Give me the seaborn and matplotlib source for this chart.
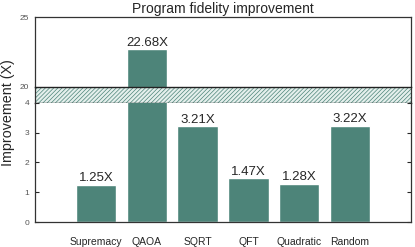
import numpy as np
import pandas as pd
import matplotlib
matplotlib.use("Agg")
import matplotlib.pyplot as plt
import seaborn as sns

sns.set_style("white")
plt.rcParams['font.family'] = ['Liberation Sans', 'DejaVu Sans']
plt.rcParams['hatch.linewidth'] = 0.5

# data
categories = ['Supremacy', 'QAOA', 'SQRT', 'QFT', 'Quadratic', 'Random']
improvement = [1.25, 22.68, 3.21, 1.47, 1.28, 3.22]
labels = ['1.25X', '22.68X', '3.21X', '1.47X', '1.28X', '3.22X']
top_ticks = [20, 25]
bottom_ticks = [0, 1, 2, 3, 4]

df = pd.DataFrame({'Benchmark': categories, 'Improvement': improvement})
bar_color = '#4d8479'

fig = plt.figure(figsize=(4.15, 2.47), dpi=100)
left, width = 0.085, 0.905
ax_top = fig.add_axes([left, 0.648, width, 0.283])
ax_band = fig.add_axes([left, 0.584, width, 0.064])
ax_bot = fig.add_axes([left, 0.101, width, 0.483])

for ax in (ax_top, ax_bot):
    sns.barplot(data=df, x='Benchmark', y='Improvement', color=bar_color,
                saturation=1, width=0.8, ax=ax)
    ax.set_xlim(-1.2, 6.2)
    ax.set_xlabel('')
    ax.set_ylabel('')
    for s in ax.spines.values():
        s.set_color('#333333')
        s.set_linewidth(0.9)

# top part (broken axis 20-25)
ax_top.set_ylim(20, 25)
ax_top.set_yticks(top_ticks)
ax_top.set_xticks([])
ax_top.spines['bottom'].set_visible(False)
ax_top.tick_params(axis='y', length=0, labelsize=6, labelcolor='#555555', pad=4.5)
ax_top.bar_label(ax_top.containers[0],
                 labels=[l if v > 20 else '' for l, v in zip(labels, improvement)],
                 fontsize=9.5, padding=0.5)
ax_top.set_title('Program fidelity improvement', fontsize=10, pad=3)

# bottom part (0-4)
ax_bot.set_ylim(0, 4)
ax_bot.set_yticks(bottom_ticks)
ax_bot.spines['top'].set_visible(False)
ax_bot.tick_params(axis='y', which='both', direction='in', length=3, width=0.8,
                   left=True, right=True, labelsize=6, labelcolor='#555555', pad=4.5)
ax_bot.tick_params(axis='x', length=0, labelsize=7.5, pad=11)
ax_bot.bar_label(ax_bot.containers[0],
                 labels=[l if v <= 4 else '' for l, v in zip(labels, improvement)],
                 fontsize=9.5, padding=0.5)

# hatched break band
ax_band.set_xlim(0, 1)
ax_band.set_ylim(0, 1)
ax_band.set_xticks([])
ax_band.set_yticks([])
ax_band.axhspan(0, 1, facecolor='#e4efec', edgecolor='#4d8479', hatch='////////', linewidth=0)
for side in ('top', 'bottom'):
    ax_band.spines[side].set_color('#222222')
    ax_band.spines[side].set_linewidth(1.0)
for side in ('left', 'right'):
    ax_band.spines[side].set_color('#333333')
    ax_band.spines[side].set_linewidth(0.9)

fig.text(0.02, 0.545, 'Improvement (X)', rotation=90, fontsize=10.3,
         ha='center', va='center')

fig.savefig('out.png', dpi=100)
